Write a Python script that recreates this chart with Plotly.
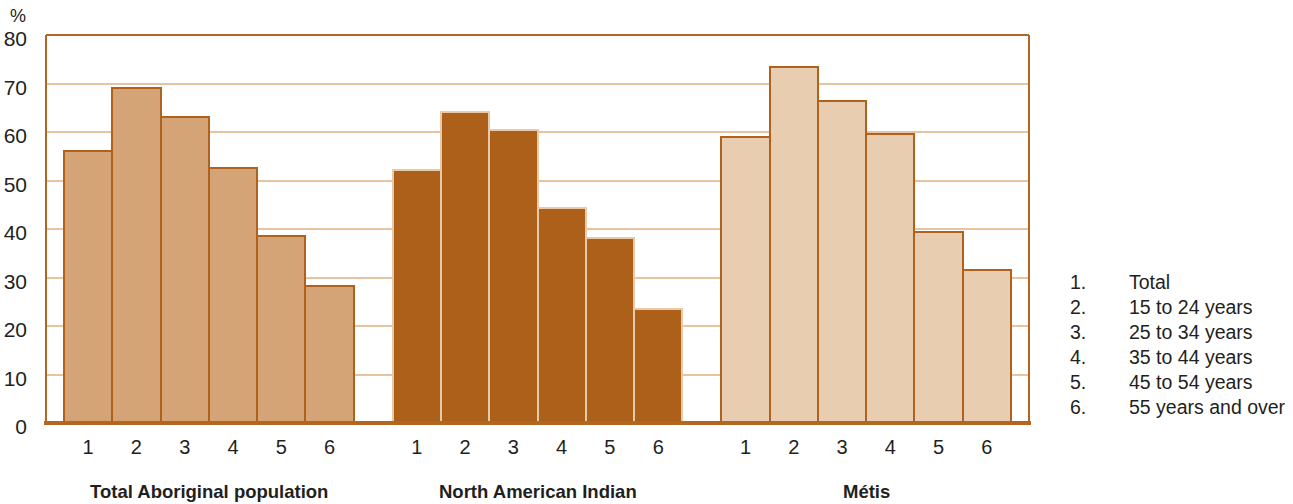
import plotly.graph_objects as go

groups = ["Total Aboriginal population", "North American Indian", "Métis"]
age_codes = ["1", "2", "3", "4", "5", "6"]
age_labels = ["Total", "15 to 24 years", "25 to 34 years", "35 to 44 years",
              "45 to 54 years", "55 years and over"]
total_aboriginal = [56, 69, 63, 52.6, 38.6, 28.2]
north_american_indian = [52.2, 64.1, 60.4, 44.3, 38.1, 23.5]
metis = [59.0, 73.4, 66.4, 59.6, 39.4, 31.5]
y_ticks = [0, 10, 20, 30, 40, 50, 60, 70, 80]

series = [total_aboriginal, north_american_indian, metis]
fills = ["#D4A476", "#AC6019", "#E8CDB1"]
outlines = ["#B0621C", "#E9C9A6", "#B0621C"]

EDGE = 0.373
GAP = 0.807
n = len(age_codes)

FONT = "Liberation Sans Narrow, Arial Narrow, Arial, sans-serif"
DARK = "#231F20"
BROWN = "#B3661F"

fig = go.Figure()
tickvals, ticktext = [], []
annotations = []
for g, (name, vals) in enumerate(zip(groups, series)):
    start = EDGE + g * (n + GAP)
    xs = [start + k + 0.5 for k in range(n)]
    fig.add_trace(go.Bar(
        x=xs, y=vals, width=1.0, name=name,
        marker=dict(color=fills[g], line=dict(color=outlines[g], width=2)),
        showlegend=False, hoverinfo="skip",
    ))
    tickvals += xs
    ticktext += age_codes
    annotations.append(dict(
        x=start + n / 2, y=-0.177, xref="x", yref="paper",
        text="<b>" + name + "</b>", showarrow=False,
        font=dict(family=FONT, size=18.5, color=DARK), yanchor="middle",
    ))

total_width = 2 * EDGE + 3 * n + 2 * GAP

# legend
for i, (code, lab) in enumerate(zip(age_codes, age_labels)):
    yv = 0.364 - i * 0.0645
    annotations.append(dict(x=1.04, y=yv, xref="paper", yref="paper", text=code + ".",
                            showarrow=False, xanchor="left", yanchor="middle",
                            font=dict(family=FONT, size=19.5, color=DARK)))
    annotations.append(dict(x=1.1, y=yv, xref="paper", yref="paper", text=lab,
                            showarrow=False, xanchor="left", yanchor="middle",
                            font=dict(family=FONT, size=19.5, color=DARK)))

annotations.append(dict(x=-0.028, y=1.05, xref="paper", yref="paper", text="%",
                        showarrow=False, xanchor="center", yanchor="middle",
                        font=dict(family=FONT, size=18, color=DARK)))

fig.update_layout(
    width=1293, height=504,
    margin=dict(l=46, r=264, t=35, b=81, autoexpand=False),
    plot_bgcolor="white", paper_bgcolor="white",
    bargap=0,
    xaxis=dict(range=[0, total_width], tickvals=tickvals, ticktext=ticktext,
               showgrid=False, zeroline=False, showline=False, ticks="",
               automargin=False,
               tickfont=dict(family=FONT, size=20, color=DARK), ticklabelstandoff=10),
    yaxis=dict(range=[0, 80], tickvals=y_ticks, showgrid=True, gridcolor="#E6C3A1",
               gridwidth=2, zeroline=False, showline=False, ticks="",
               automargin=False, ticklabelshift=4,
               tickfont=dict(family=FONT, size=21, color=DARK), ticklabelstandoff=18),
    annotations=annotations,
    shapes=[
        dict(type="line", xref="paper", yref="paper", x0=0, x1=0, y0=0, y1=1,
             line=dict(color=BROWN, width=2)),
        dict(type="line", xref="paper", yref="paper", x0=1, x1=1, y0=0, y1=1,
             line=dict(color=BROWN, width=2)),
        dict(type="line", xref="paper", yref="paper", x0=0, x1=1, y0=1, y1=1,
             line=dict(color=BROWN, width=2)),
        dict(type="line", xref="paper", yref="paper", x0=-0.002, x1=1.002, y0=0, y1=0,
             line=dict(color=BROWN, width=4)),
    ],
)

fig.write_html("out.html", config={"displayModeBar": False},
               post_script="document.body.style.margin='0';")
